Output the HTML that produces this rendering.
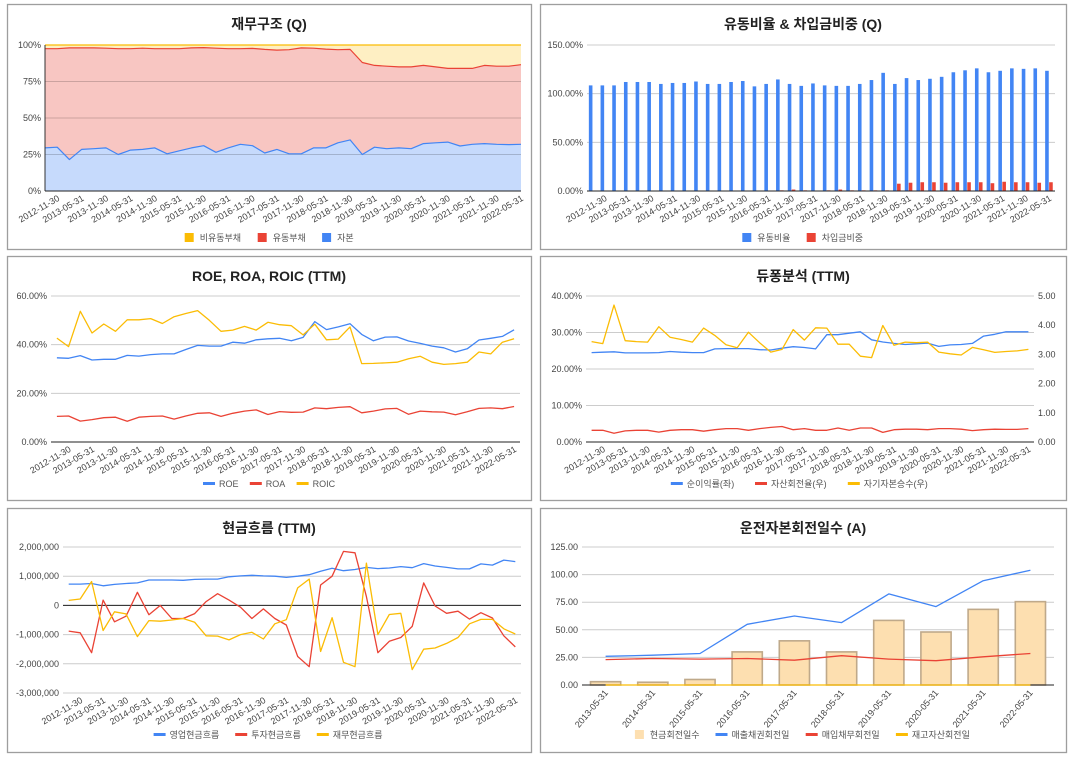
<!DOCTYPE html>
<html><head><meta charset="utf-8">
<style>
html,body{margin:0;padding:0;background:#fff;}
svg{display:block;font-family:"Liberation Sans","Noto Sans CJK KR",sans-serif;}
</style></head>
<body>
<svg id="chart" width="1072" height="759" viewBox="0 0 1072 759"></svg>
<script>
// ---------- data ----------
const quarters=['2012-08-31','2012-11-30','2013-02-28','2013-05-31','2013-08-31','2013-11-30','2014-02-28','2014-05-31','2014-08-31','2014-11-30','2015-02-28','2015-05-31','2015-08-31','2015-11-30','2016-02-29','2016-05-31','2016-08-31','2016-11-30','2017-02-28','2017-05-31','2017-08-31','2017-11-30','2018-02-28','2018-05-31','2018-08-31','2018-11-30','2019-02-28','2019-05-31','2019-08-31','2019-11-30','2020-02-29','2020-05-31','2020-08-31','2020-11-30','2021-02-28','2021-05-31','2021-08-31','2021-11-30','2022-02-28','2022-05-31'];
// 재무구조
const equityPct=[29.5,30,21.5,28.5,29,29.5,25,28,28.5,29.5,25.5,27.5,29.5,31,26.5,29.5,32,31,26,28.5,25.5,25.5,29.5,29.5,33,35,25,30,29,29.5,29,32.5,33,33.5,30.8,32,32.5,32,31.8,32];
const nonCurrentPct=[2.5,2.5,2,2,2,2.2,2.5,2.5,2.2,2.5,2.5,2.5,2,1.8,2.2,2.5,2.5,2.3,3,3.5,3.2,2,2.2,2.8,3.2,3,12,14,14.5,15,15,14,15,16,16,16,14,14.5,14.5,13.5];
// 유동비율 & 차입금비중
const currentRatio=[108.5,108.5,108.5,112,112,112,110,111,111,112.5,110,110,112,113,107.5,110,114.6,110,108,110.5,108.5,108,108,110,114,121.4,110,116,114,115.3,117.3,122,124,126,122,123.5,126,125.5,126,123.5];
const debtRatio=[0,0,0,0,0,0,0,0,0,0,0,0,0,0,0,0,0.7,1.5,0.7,0,0.7,1.5,0.7,0.7,0.7,0.7,7.5,8.5,9,9,8.5,9,9,9,8,9.5,9,9,8.5,9];
// ROE ROA ROIC
const roe=[34.6,34.4,35.5,33.7,34,34,35.6,35.3,35.9,36.2,36.2,38,39.7,39.4,39.4,41,40.6,42,42.4,42.6,41.6,43,49.5,46.2,47.3,48.6,44.2,41.6,43.1,43.2,41.5,40.5,39.4,38.7,37,38.3,41.9,42.6,43.4,46.1];
const roa=[10.5,10.7,8.6,9.2,10,10.2,8.5,10.2,10.5,10.7,9.4,10.7,11.8,12,10.5,11.8,12.7,13.2,11.3,12.5,12.2,12.3,14,13.7,14.2,14.5,12,12.7,13.6,13.8,11.4,12.7,12.4,12.3,11.2,12.4,13.8,14,13.7,14.6];
const roic=[42.7,39.2,53.7,44.8,48.5,45.5,50.2,50.2,50.7,48.7,51.5,52.8,54,50,45.5,46,47.5,46,49.2,48.2,47.8,44,48.4,42,42.3,47.3,32.2,32.3,32.5,32.8,34.2,35.2,32.8,31.9,32.2,32.8,37,36.2,41,42.4];
// 듀퐁
const netMargin=[24.5,24.6,24.7,24.4,24.4,24.4,24.5,24.8,24.6,24.5,24.5,25.5,25.6,25.6,25.6,25.3,25.2,25.7,26.1,25.9,25.5,29.4,29.4,29.8,30.2,28,27.4,27,26.7,26.9,27.1,26.2,26.6,26.7,27,29,29.5,30.2,30.2,30.2];
const assetTurnover=[0.4,0.4,0.3,0.38,0.4,0.4,0.34,0.4,0.42,0.42,0.37,0.42,0.46,0.46,0.4,0.46,0.5,0.53,0.42,0.46,0.4,0.4,0.48,0.4,0.48,0.48,0.33,0.42,0.44,0.44,0.42,0.46,0.46,0.44,0.39,0.42,0.44,0.43,0.43,0.46];
const equityMultiplier=[3.44,3.37,4.69,3.47,3.44,3.42,3.95,3.59,3.51,3.42,3.9,3.65,3.33,3.23,3.76,3.4,3.08,3.17,3.85,3.49,3.91,3.9,3.35,3.35,2.94,2.89,3.99,3.31,3.42,3.4,3.42,3.08,3.02,2.98,3.24,3.16,3.07,3.1,3.12,3.17];
// 현금흐름 (백만 단위 x 1,000,000)
const opCF=[0.73,0.73,0.75,0.67,0.72,0.75,0.77,0.87,0.87,0.87,0.86,0.89,0.9,0.9,0.98,1.01,1.03,1.01,1.0,0.96,1.0,1.05,1.17,1.27,1.19,1.23,1.3,1.26,1.28,1.33,1.29,1.43,1.35,1.3,1.25,1.25,1.42,1.38,1.55,1.5];
const invCF=[-0.88,-0.94,-1.62,0.18,-0.56,-0.37,0.45,-0.32,0.0,-0.45,-0.45,-0.28,0.13,0.4,0.18,-0.06,-0.45,-0.12,-0.45,-0.67,-1.75,-2.1,0.7,1.0,1.85,1.8,0.3,-1.62,-1.23,-1.1,-0.72,0.77,-0.02,-0.27,-0.2,-0.47,-0.25,-0.43,-1.04,-1.42];
const finCF=[0.17,0.22,0.82,-0.86,-0.22,-0.29,-1.07,-0.52,-0.54,-0.5,-0.45,-0.58,-1.04,-1.05,-1.18,-1.0,-0.92,-1.15,-0.63,-0.49,0.6,0.9,-1.58,-0.42,-1.95,-2.1,1.45,-1.0,-0.31,-0.27,-2.2,-1.5,-1.46,-1.3,-1.1,-0.63,-0.48,-0.48,-0.8,-0.98];
// 운전자본회전일수
const years=['2013-05-31','2014-05-31','2015-05-31','2016-05-31','2017-05-31','2018-05-31','2019-05-31','2020-05-31','2021-05-31','2022-05-31'];
const cashCycle=[3,2.5,5,30,40,30,58.5,48,68.5,75.5];
const arDays=[26,27,28.5,55,62.5,56.5,82.5,71,94.5,104];
const apDays=[23,24,23.5,24,22.5,26.5,23.5,22,25.5,28.5];
const invDays=[0,0,0,0,0,0,0,0,0,0];
// tick labels
const pctTicks1=[0,25,50,75,100];
const pctTicks2=[0,50,100,150];
const pctTicks3=[0,20,40,60];
const pctTicks4=[0,10,20,30,40];
const rightTicks4=[0,1,2,3,4,5];
const cfTicks=[-3,-2,-1,0,1,2];
const dayTicks=[0,25,50,75,100,125];

const BLUE='#4285f4',RED='#ea4335',YEL='#fbbc04';
const NS='http://www.w3.org/2000/svg';
const svg=document.getElementById('chart');
function el(tag,attrs,parent){const e=document.createElementNS(NS,tag);for(const k in attrs)e.setAttribute(k,attrs[k]);(parent||svg).appendChild(e);return e;}
function txt(s,x,y,attrs,parent){const t=el('text',Object.assign({x:x,y:y},attrs),parent);t.textContent=s;return t;}

function panel(x,y,w,h,title,name){
  const g=el('g',{});
  
  
  const r=el('rect',{x:x+0.5,y:y+0.5,width:w,height:h,fill:'#fff',stroke:'#9e9e9e','stroke-width':1.3},g);
  
  
  const t=txt(title,x+w/2,y+25,{'text-anchor':'middle','font-size':'14px','font-weight':'bold',fill:'#222'},g);
  
  
  return g;
}
function grid(g,ticks,yf,x0,x1,fmt,lx,anchor,name,drawLines){
  ticks.forEach(v=>{
    const y=yf(v);
    if(drawLines){
      const l=el('line',{x1:x0,x2:x1,y1:y,y2:y,stroke:'#cccccc','stroke-width':1},g);
      
      
    }
    const t=txt(fmt(v),lx,y+3,{'text-anchor':anchor,'font-size':'9px',fill:'#444'},g);
    
    
  });
}
function xlabels(g,cats,xf,y,filter){
  cats.forEach((c,i)=>{
    if(!filter(i))return;
    const x=xf(i);
    const t=txt(c,x+3,y,{'text-anchor':'end','font-size':'9px',fill:'#444',transform:'rotate(-30 '+(x+3)+' '+y+')'},g);
    
    
  });
}
function line(g,vals,xf,yf,color,name,w){
  const d=vals.map((v,i)=>(i?'L':'M')+xf(i).toFixed(1)+' '+yf(v).toFixed(1)).join(' ');
  const p=el('path',{d:d,fill:'none',stroke:color,'stroke-width':w||1.3,'stroke-linejoin':'round'},g);
  
  
}
function legend(g,items,cx,y){
  const widths=items.map(it=>{let w=0;for(const ch of it.label)w+=(ch.charCodeAt(0)>255?8.6:5.6);return 16+w;});
  const gap=14;
  const total=widths.reduce((a,b)=>a+b,0)+gap*(items.length-1);
  let x=cx-total/2;
  items.forEach((it,i)=>{
    const lg=el('g',{},g);
    
    
    if(it.type==='line') el('rect',{x:x,y:y-2,width:12,height:3,fill:it.color},lg);
    else el('rect',{x:x+1,y:y-5,width:9,height:9,fill:it.color},lg);
    txt(it.label,x+16,y+3,{'font-size':'9px',fill:'#555'},lg);
    x+=widths[i]+gap;
  });
}
function lin(d0,d1,r0,r1){return v=>r0+(v-d0)/(d1-d0)*(r1-r0);}

// ---------- Chart 1: 재무구조 ----------
(function(){
  const g=panel(7,4,524,245,'재무구조 (Q)','capital-structure-chart');
  const x0=45,x1=521,yT=45,yB=191;
  const n=quarters.length;
  const xf=i=>x0+i*(x1-x0)/(n-1);
  const yf=lin(0,100,yB,yT);
  const eqTop=equityPct;
  const liabTop=equityPct.map((v,i)=>100-nonCurrentPct[i]);
  function area(top,bot,fill,name){
    let d='M'+top.map((v,i)=>xf(i).toFixed(1)+' '+yf(v).toFixed(1)).join(' L');
    for(let i=n-1;i>=0;i--)d+=' L'+xf(i).toFixed(1)+' '+yf(bot[i]).toFixed(1);
    const p=el('path',{d:d+'Z',fill:fill},g);
    
    
  }
  area(quarters.map(()=>100),liabTop,'#feefc3','area-noncurrent-liabilities');
  area(liabTop,eqTop,'#f8c6c2','area-current-liabilities');
  area(eqTop,quarters.map(()=>0),'#c6dafc','area-equity');
  pctTicks1.forEach(v=>{const l=el('line',{x1:x0,x2:x1,y1:yf(v),y2:yf(v),stroke:'#000','stroke-opacity':0.18},g);});
  grid(g,pctTicks1,yf,x0,x1,v=>v+'%',41,'end','y-axis-label',false);
  line(g,quarters.map(()=>100),xf,yf,YEL,'line-noncurrent-top',1.2);
  line(g,liabTop,xf,yf,RED,'line-current-liabilities',1.2);
  line(g,eqTop,xf,yf,BLUE,'line-equity',1.2);
  el('line',{x1:x0,x2:x0,y1:yT,y2:yB,stroke:'#333'},g);
  el('line',{x1:x0,x2:x1,y1:yB,y2:yB,stroke:'#222'},g);
  xlabels(g,quarters,xf,200,i=>i%2===1);
  legend(g,[{label:'비유동부채',color:YEL},{label:'유동부채',color:RED},{label:'자본',color:BLUE}],269,238);
})();

// ---------- Chart 2: 유동비율 & 차입금비중 ----------
(function(){
  const g=panel(540,4,526,245,'유동비율 & 차입금비중 (Q)','liquidity-ratio-chart');
  const x0=587,x1=1055,yT=45,yB=191;
  const n=quarters.length,bw=(x1-x0)/n;
  const xc=i=>x0+(i+0.5)*bw;
  const yf=lin(0,150,yB,yT);
  grid(g,pctTicks2,yf,x0,x1,v=>v.toFixed(2)+'%',583,'end','y-axis-label',true);
  currentRatio.forEach((v,i)=>{
    const r=el('rect',{x:xc(i)-4,y:yf(v),width:3.6,height:yB-yf(v),fill:BLUE},g);
    
    
  });
  debtRatio.forEach((v,i)=>{
    const r=el('rect',{x:xc(i),y:yf(v),width:3.6,height:yB-yf(v),fill:RED},g);
    
    
  });
  el('line',{x1:x0,x2:x1,y1:yB,y2:yB,stroke:'#222'},g);
  xlabels(g,quarters,xc,200,i=>i%2===1);
  legend(g,[{label:'유동비율',color:BLUE},{label:'차입금비중',color:RED}],803,238);
})();

// ---------- Chart 3: ROE ROA ROIC ----------
(function(){
  const g=panel(7,256,524,244,'ROE, ROA, ROIC (TTM)','roe-roa-roic-chart');
  const x0=51,x1=520,yT=296,yB=442;
  const n=quarters.length,bw=(x1-x0)/n;
  const xc=i=>x0+(i+0.5)*bw;
  const yf=lin(0,60,yB,yT);
  grid(g,pctTicks3,yf,x0,x1,v=>v.toFixed(2)+'%',47,'end','y-axis-label',true);
  el('line',{x1:x0,x2:x1,y1:yB,y2:yB,stroke:'#222'},g);
  line(g,roe,xc,yf,BLUE,'line-roe');
  line(g,roa,xc,yf,RED,'line-roa');
  line(g,roic,xc,yf,YEL,'line-roic');
  xlabels(g,quarters,xc,451,i=>i%2===1);
  legend(g,[{label:'ROE',color:BLUE,type:'line'},{label:'ROA',color:RED,type:'line'},{label:'ROIC',color:YEL,type:'line'}],269,484);
})();

// ---------- Chart 4: 듀퐁분석 ----------
(function(){
  const g=panel(540,256,526,244,'듀퐁분석 (TTM)','dupont-chart');
  const x0=586,x1=1034,yT=296,yB=442;
  const n=quarters.length,bw=(x1-x0)/n;
  const xc=i=>x0+(i+0.5)*bw;
  const yl=lin(0,40,yB,yT), yr=lin(0,5,yB,yT);
  grid(g,pctTicks4,yl,x0,x1,v=>v.toFixed(2)+'%',582,'end','y-axis-label-left',true);
  grid(g,rightTicks4,yr,x0,x1,v=>v.toFixed(2),1038,'start','y-axis-label-right',false);
  el('line',{x1:x0,x2:x1,y1:yB,y2:yB,stroke:'#222'},g);
  line(g,netMargin,xc,yl,BLUE,'line-net-margin');
  line(g,assetTurnover,xc,yr,RED,'line-asset-turnover');
  line(g,equityMultiplier,xc,yr,YEL,'line-equity-multiplier');
  xlabels(g,quarters,xc,451,i=>i%2===1);
  legend(g,[{label:'순이익률(좌)',color:BLUE,type:'line'},{label:'자산회전율(우)',color:RED,type:'line'},{label:'자기자본승수(우)',color:YEL,type:'line'}],803,484);
})();

// ---------- Chart 5: 현금흐름 ----------
(function(){
  const g=panel(7,508,524,244,'현금흐름 (TTM)','cash-flow-chart');
  const x0=63,x1=521,yT=547,yB=693;
  const n=quarters.length,bw=(x1-x0)/n;
  const xc=i=>x0+(i+0.5)*bw;
  const yf=lin(-3,2,yB,yT);
  grid(g,cfTicks,yf,x0,x1,v=>(v*1000000).toLocaleString('en-US'),59,'end','y-axis-label',true);
  el('line',{x1:x0,x2:x1,y1:yf(0),y2:yf(0),stroke:'#222'},g);
  line(g,opCF,xc,yf,BLUE,'line-operating-cf');
  line(g,invCF,xc,yf,RED,'line-investing-cf');
  line(g,finCF,xc,yf,YEL,'line-financing-cf');
  xlabels(g,quarters,xc,702,i=>i%2===1);
  legend(g,[{label:'영업현금흐름',color:BLUE,type:'line'},{label:'투자현금흐름',color:RED,type:'line'},{label:'재무현금흐름',color:YEL,type:'line'}],269,735);
})();

// ---------- Chart 6: 운전자본회전일수 ----------
(function(){
  const g=panel(540,508,526,244,'운전자본회전일수 (A)','working-capital-chart');
  const x0=582,x1=1054,yT=547,yB=685;
  const n=years.length,bw=(x1-x0)/n;
  const xc=i=>x0+(i+0.5)*bw;
  const yf=lin(0,125,yB,yT);
  grid(g,dayTicks,yf,x0,x1,v=>v.toFixed(2),578,'end','y-axis-label',true);
  cashCycle.forEach((v,i)=>{
    const r=el('rect',{x:xc(i)-bw*0.32,y:yf(v),width:bw*0.64,height:yB-yf(v),fill:'#fddfb0',stroke:'#bfa98a','stroke-width':1.6},g);
    
    
  });
  el('line',{x1:x0,x2:x1,y1:yB,y2:yB,stroke:'#222'},g);
  line(g,arDays,xc,yf,BLUE,'line-receivable-days');
  line(g,apDays,xc,yf,RED,'line-payable-days');
  line(g,invDays,xc,yf,YEL,'line-inventory-days');
  years.forEach((c,i)=>{
    const x=xc(i)+3,y=693;
    const t=txt(c,x,y,{'text-anchor':'end','font-size':'9px',fill:'#444',transform:'rotate(-50 '+x+' '+y+')'},g);
    
    
  });
  legend(g,[{label:'현금회전일수',color:'#fddfb0'},{label:'매출채권회전일',color:BLUE,type:'line'},{label:'매입채무회전일',color:RED,type:'line'},{label:'재고자산회전일',color:YEL,type:'line'}],803,735);
})();
</script>
</body></html>
